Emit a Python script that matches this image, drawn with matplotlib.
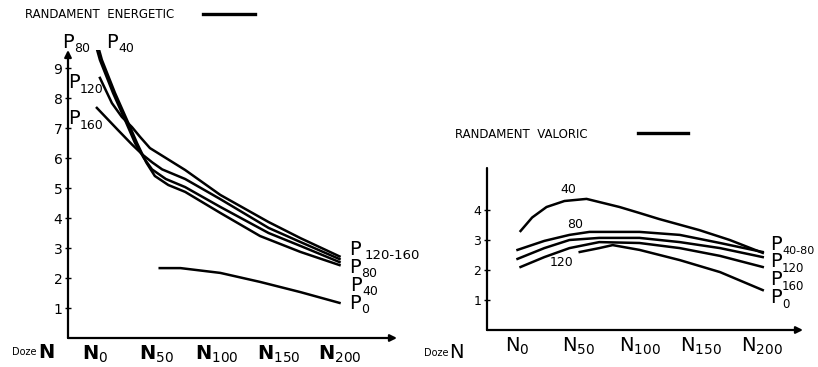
import matplotlib.pyplot as plt
from matplotlib.lines import Line2D

# dose levels on the x axis (N0 .. N200)
doses = [0, 50, 100, 150, 200]
dose_labels = ['0', '50', '100', '150', '200']

# --- RANDAMENT ENERGETIC (left) ---
e_p40_x = [0, 5.7, 16.4, 26.2, 34.4, 42, 49, 60, 73.8, 102.5, 135, 168, 200]
e_p40_y = [10.1, 9.27, 8.17, 7.27, 6.5, 5.85, 5.4, 5.1, 4.87, 4.17, 3.4, 2.87, 2.43]
e_p80_x = [-1.6, 4.1, 14.8, 24.6, 32.8, 40, 46.7, 58, 73.8, 102.5, 142, 168, 200]
e_p80_y = [10.1, 9.27, 8.17, 7.27, 6.5, 6.0, 5.62, 5.3, 5.03, 4.37, 3.5, 3.07, 2.53]
e_p120_x = [4.1, 13.9, 22, 30.3, 37, 45, 60, 73.8, 102.5, 141.8, 168, 200]
e_p120_y = [8.67, 7.83, 7.37, 7.03, 6.7, 6.33, 5.95, 5.6, 4.77, 3.87, 3.33, 2.72]
e_p160_x = [1.6, 18.9, 30.3, 39.3, 47, 55, 73.8, 102.5, 142, 168, 200]
e_p160_y = [7.67, 6.93, 6.45, 6.1, 5.85, 5.62, 5.3, 4.63, 3.67, 3.2, 2.63]
e_p0_x = [53, 70, 102.5, 135, 168, 200]
e_p0_y = [2.33, 2.33, 2.17, 1.87, 1.53, 1.17]

# --- RANDAMENT VALORIC (right) ---
v_p40_x = [2.5, 12, 23.8, 38.5, 56.6, 83.6, 100, 116, 149, 174, 201]
v_p40_y = [3.3, 3.75, 4.1, 4.3, 4.37, 4.1, 3.9, 3.7, 3.33, 3.0, 2.57]
v_p80_x = [0, 22, 42.6, 59, 100, 133, 166, 201]
v_p80_y = [2.67, 2.97, 3.17, 3.27, 3.27, 3.17, 2.9, 2.6]
v_p120_x = [0, 22, 42.6, 67, 100, 133, 166, 201]
v_p120_y = [2.37, 2.73, 3.0, 3.07, 3.07, 2.93, 2.73, 2.43]
v_p160_x = [2.5, 22, 42.6, 67, 100, 133, 166, 201]
v_p160_y = [2.1, 2.43, 2.73, 2.93, 2.9, 2.73, 2.47, 2.1]
v_p0_x = [51, 67, 78, 100, 133, 166, 201]
v_p0_y = [2.6, 2.73, 2.83, 2.67, 2.33, 1.93, 1.33]


def plabel(ax, x, y, sub, size=14, subsize=9, gap=0.62):
    # big "P" with a smaller index after it
    ax.text(x, y, 'P', fontsize=size, ha='left', va='center', clip_on=False)
    ax.annotate(sub, (x, y), xytext=(size * gap, -size * 0.33),
                textcoords='offset points', fontsize=subsize,
                ha='left', va='center', annotation_clip=False)


def setup_axes(ax, yarrow, bold):
    for s in ax.spines.values():
        s.set_visible(False)
    ax.annotate('', xy=(1, 0), xytext=(0, 0), xycoords='axes fraction',
                arrowprops=dict(arrowstyle='-|>', color='k', lw=1.6,
                                shrinkA=0, shrinkB=0, mutation_scale=10))
    ax.annotate('', xy=(0, 1), xytext=(0, 0), xycoords='axes fraction',
                arrowprops=dict(arrowstyle='-|>' if yarrow else '-', color='k',
                                lw=1.6, shrinkA=0, shrinkB=0, mutation_scale=10))
    ax.set_xticks(doses)
    if bold:
        ax.set_xticklabels([r'$\mathbf{N}_{%s}$' % d for d in dose_labels], fontsize=14)
    else:
        ax.set_xticklabels([r'$\mathrm{N}_{%s}$' % d for d in dose_labels], fontsize=14)
    ax.tick_params(axis='x', length=0, pad=4)
    ax.tick_params(axis='y', direction='inout', length=4, width=1, pad=2, labelsize=10)


fig = plt.figure(figsize=(8.18, 3.67), dpi=100)

ax1 = fig.add_axes([68 / 818, 29 / 367, 329 / 818, 288 / 367])
ax1.set_xlim(-22, 247)
ax1.set_ylim(0, 9.6)
setup_axes(ax1, True, True)
ax1.set_yticks(range(1, 10))

lw = 1.8
ax1.plot(e_p40_x, e_p40_y, color='k', lw=lw)
ax1.plot(e_p80_x, e_p80_y, color='k', lw=lw)
ax1.plot(e_p120_x, e_p120_y, color='k', lw=lw)
ax1.plot(e_p160_x, e_p160_y, color='k', lw=lw)
ax1.plot(e_p0_x, e_p0_y, color='k', lw=lw)

plabel(ax1, -27, 9.85, '80')
plabel(ax1, 9.5, 9.85, '40')
plabel(ax1, -22, 8.5, '120')
plabel(ax1, -22, 7.3, '160')
plabel(ax1, 208, 2.95, '120-160', subsize=9.5, gap=0.8)
plabel(ax1, 208, 2.35, '80')
plabel(ax1, 209, 1.75, '40')
plabel(ax1, 208, 1.15, '0')

ax1.text(-0.17, -0.05, 'Doze', transform=ax1.transAxes, fontsize=7,
         ha='left', va='center')
ax1.text(-0.09, -0.05, 'N', transform=ax1.transAxes, fontsize=14,
         fontweight='bold', ha='left', va='center')

ax2 = fig.add_axes([487 / 818, 37 / 367, 316 / 818, 162 / 367])
ax2.set_xlim(-25, 234)
ax2.set_ylim(0, 5.4)
setup_axes(ax2, False, False)
ax2.set_yticks(range(1, 5))
ax2.tick_params(axis='y', labelsize=9)

ax2.plot(v_p40_x, v_p40_y, color='k', lw=lw)
ax2.plot(v_p80_x, v_p80_y, color='k', lw=lw)
ax2.plot(v_p120_x, v_p120_y, color='k', lw=lw)
ax2.plot(v_p160_x, v_p160_y, color='k', lw=lw)
ax2.plot(v_p0_x, v_p0_y, color='k', lw=lw)

ax2.text(42, 4.67, '40', fontsize=9, ha='center', va='center')
ax2.text(47, 3.52, '80', fontsize=9, ha='center', va='center')
ax2.text(36, 2.25, '120', fontsize=9, ha='center', va='center')

plabel(ax2, 207, 2.85, '40-80', subsize=8)
plabel(ax2, 207, 2.27, '120', subsize=8.5)
plabel(ax2, 207, 1.67, '160', subsize=8.5)
plabel(ax2, 207, 1.07, '0', subsize=8.5)

ax2.text(-0.2, -0.14, 'Doze', transform=ax2.transAxes, fontsize=7,
         ha='left', va='center')
ax2.text(-0.12, -0.14, 'N', transform=ax2.transAxes, fontsize=14,
         ha='left', va='center')

# legend-like titles with a short line sample
fig.text(25 / 818, 1 - 15 / 367, 'RANDAMENT  ENERGETIC', fontsize=8.5,
         ha='left', va='center')
fig.add_artist(Line2D([203 / 818, 255 / 818], [1 - 14 / 367, 1 - 14 / 367],
                      color='k', lw=2.4))
fig.text(455 / 818, 1 - 135 / 367, 'RANDAMENT  VALORIC', fontsize=8.5,
         ha='left', va='center')
fig.add_artist(Line2D([638 / 818, 688 / 818], [1 - 133 / 367, 1 - 133 / 367],
                      color='k', lw=2.4))

fig.savefig('out.png', dpi=100)
